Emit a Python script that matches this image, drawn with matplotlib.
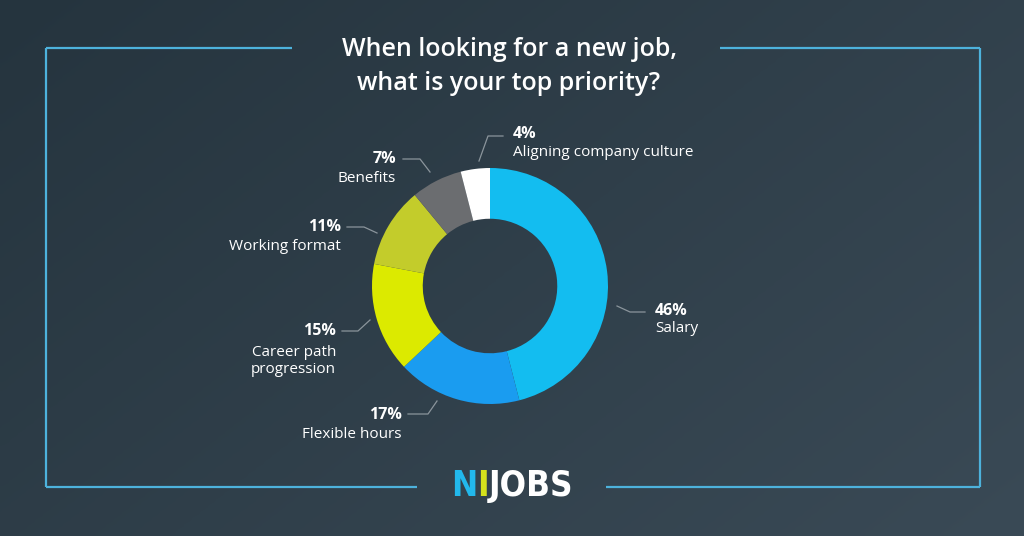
import matplotlib
matplotlib.use("Agg")
import matplotlib.pyplot as plt
import numpy as np
from matplotlib.colors import LinearSegmentedColormap
from matplotlib import font_manager as fm

# ---------------- data ----------------
title_lines = ["When looking for a new job,", "what is your top priority?"]
categories = ["Salary", "Flexible hours", "Career path\nprogression", "Working format",
              "Benefits", "Aligning company culture"]
values = [46, 17, 15, 11, 7, 4]
colors = ["#13bdf0", "#1a9cf0", "#dcea00", "#c3cc2b", "#6b6d70", "#ffffff"]
logo_parts = ["N", "I", "JOBS"]
logo_colors = ["#22b8ec", "#d5e21c", "#ffffff"]

W, H = 1024, 536
fig = plt.figure(figsize=(W / 100, H / 100), dpi=100)

# ---------------- background gradient ----------------
axbg = fig.add_axes([0, 0, 1, 1], zorder=0)
gx, gy = np.meshgrid(np.linspace(0, 1, 256), np.linspace(0, 1, 256))
grad = 0.6 * gx + 0.4 * gy
cmap = LinearSegmentedColormap.from_list("bg", ["#25343e", "#3a4a56"])
axbg.imshow(grad, cmap=cmap, extent=[0, W, H, 0], aspect="auto", interpolation="bicubic")
axbg.set_xlim(0, W)
axbg.set_ylim(H, 0)
axbg.axis("off")

# ---------------- donut ----------------
cx, cy, R = 490, 286, 118
box = 300
axp = fig.add_axes([(cx - box / 2) / W, (H - cy - box / 2) / H, box / W, box / H], zorder=1)
axp.pie(values, colors=colors, startangle=90, counterclock=False, radius=1,
        wedgeprops=dict(width=0.43, edgecolor="none", linewidth=0))
lim = (box / 2) / R
axp.set_xlim(-lim, lim)
axp.set_ylim(-lim, lim)
axp.set_aspect("equal")
axp.axis("off")

# ---------------- overlay (pixel coordinates) ----------------
ax = fig.add_axes([0, 0, 1, 1], zorder=2)
ax.set_xlim(0, W)
ax.set_ylim(H, 0)
ax.axis("off")
ax.patch.set_alpha(0)

FONT = "Open Sans"
frame_c = "#4db2dc"
lw = 1.6
ax.plot([46, 292], [48, 48], color=frame_c, lw=lw, solid_capstyle="butt")
ax.plot([720, 980], [48, 48], color=frame_c, lw=lw, solid_capstyle="butt")
ax.plot([46, 46], [48, 487], color=frame_c, lw=lw, solid_capstyle="butt")
ax.plot([980, 980], [48, 487], color=frame_c, lw=lw, solid_capstyle="butt")
ax.plot([46, 417], [487, 487], color=frame_c, lw=lw, solid_capstyle="butt")
ax.plot([606, 980], [487, 487], color=frame_c, lw=lw, solid_capstyle="butt")

# title
ax.text(509, 50, title_lines[0], ha="center", va="center", color="white",
        fontsize=18, family=FONT, fontweight="semibold")
ax.text(509, 83, title_lines[1], ha="center", va="center", color="white",
        fontsize=18, family=FONT, fontweight="semibold")

# labels layout: (leader points, text x, pct y, label y, ha)
layout = [
    ([(617, 306), (630, 312), (645, 312)], 655, 311, 329, "left"),
    ([(437, 401), (428, 414), (408, 414)], 402, 415, 435, "right"),
    ([(370, 320), (358, 331), (342, 331)], 336, 331, 361, "right"),
    ([(377, 233), (364, 227), (347, 227)], 341, 227, 246, "right"),
    ([(430, 172), (420, 159), (403, 159)], 396, 159, 178, "right"),
    ([(479, 161), (488, 136), (503, 136)], 513, 134, 153, "left"),
]
line_c = "#8b959c"
for val, cat, (pts, tx, py, ly, ha) in zip(values, categories, layout):
    xs, ys = zip(*pts)
    ax.plot(xs, ys, color=line_c, lw=0.9)
    ax.text(tx, py, f"{val}%", ha=ha, va="center", color="white", fontsize=11.5,
            family=FONT, fontweight="bold")
    ax.text(tx, ly, cat, ha=ha, va="center", color="white", fontsize=11,
            family=FONT, linespacing=1.15)

# ---------------- logo ----------------
keys = ["Condensed", "Narrow", "Cond"]
cands = [f for f in fm.fontManager.ttflist
         if any(k in f.name or k in f.fname for k in keys)]
bold = [f for f in cands if (isinstance(f.weight, int) and f.weight >= 600)
        or "Bold" in f.fname]
pick = bold or cands
if pick:
    cond = fm.FontProperties(fname=pick[0].fname)
else:
    cond = fm.FontProperties(family="DejaVu Sans", weight="bold", stretch="condensed")

target_w = 122
fig.canvas.draw()
r = fig.canvas.get_renderer()


def build(size):
    ts = []
    for s, c in zip(logo_parts, logo_colors):
        fp = cond.copy()
        fp.set_size(size)
        t = ax.text(0, 486, s, ha="left", va="center", color=c, fontproperties=fp)
        ts.append(t)
    widths = [t.get_window_extent(renderer=r).width for t in ts]
    return ts, widths


ts, widths = build(30)
tot = sum(widths)
size = min(30 * target_w / tot, 34)
for t in ts:
    t.remove()
ts, widths = build(size)
tot = sum(widths)
acc = 512 - tot / 2
for t, w in zip(ts, widths):
    t.set_x(acc)
    acc += w

fig.savefig("out.png", dpi=100)
